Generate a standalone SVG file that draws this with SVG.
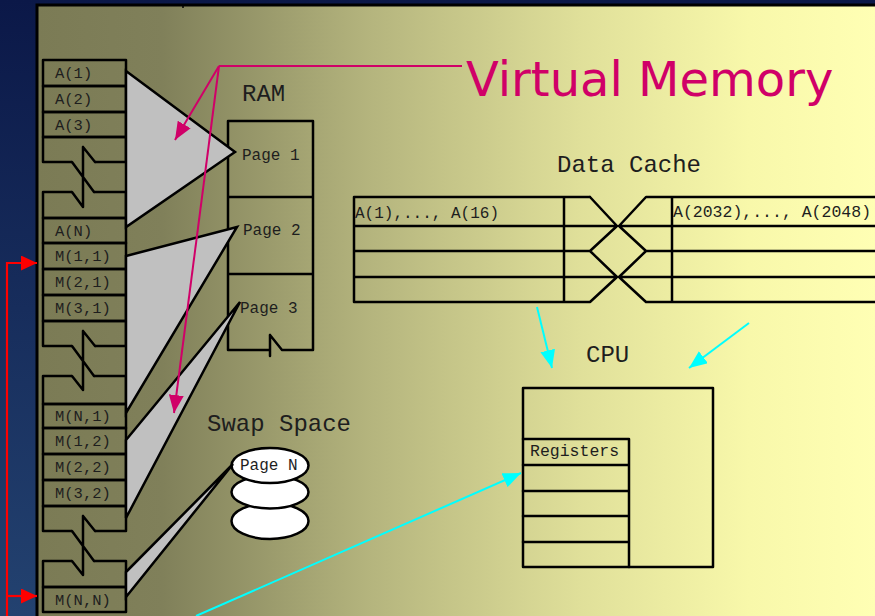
<svg xmlns="http://www.w3.org/2000/svg" width="875" height="616" viewBox="0 0 875 616">
<defs>
<linearGradient id="bg" x1="0" y1="0" x2="0" y2="1">
<stop offset="0" stop-color="#0b1848"/><stop offset="1" stop-color="#234270"/>
</linearGradient>
<linearGradient id="panel" x1="37" y1="0" x2="875" y2="0" gradientUnits="userSpaceOnUse">
<stop offset="0" stop-color="#7b7b55"/><stop offset="0.15" stop-color="#80805a"/><stop offset="0.4" stop-color="#b5b57e"/><stop offset="0.65" stop-color="#e0e09a"/><stop offset="0.85" stop-color="#f8f8aa"/><stop offset="1" stop-color="#ffffb4"/>
</linearGradient>
<marker id="mc" markerUnits="userSpaceOnUse" markerWidth="18" markerHeight="15" refX="18" refY="7.5" orient="auto"><path d="M0,0 L18,7.5 L0,15 z" fill="#00ffff"/></marker>
<marker id="mm" markerUnits="userSpaceOnUse" markerWidth="18" markerHeight="15" refX="18" refY="7.5" orient="auto"><path d="M0,0 L18,7.5 L0,15 z" fill="#d00068"/></marker>
<marker id="mr" markerUnits="userSpaceOnUse" markerWidth="16" markerHeight="15" refX="16" refY="7.5" orient="auto"><path d="M0,0 L16,7.5 L0,15 z" fill="#ff0000"/></marker>
</defs>
<style>
.ln{fill:none;stroke:#000;stroke-width:2.5;stroke-linejoin:round;stroke-linecap:round}
.cell{fill:none;stroke:#000;stroke-width:2.5;stroke-linejoin:round}
.tri{fill:#c0c0c0;stroke:#000;stroke-width:2.5;stroke-linejoin:miter}
.t{font-family:"Liberation Mono","DejaVu Sans Mono",monospace;fill:#1e1e1e}
.s{font-size:15.5px}
.m{font-size:16px}
.big{font-size:24px}
.cy{stroke:#00ffff;stroke-width:2;fill:none}
.mg{stroke:#d00068;stroke-width:2;fill:none}
.rd{stroke:#ff0000;stroke-width:2.2;fill:none}
.ell{fill:#fff;stroke:#000;stroke-width:2.5}
</style>
<rect width="875" height="616" fill="url(#bg)"/>
<rect x="37" y="5" width="860" height="630" fill="url(#panel)" stroke="#000" stroke-width="3"/>
<line x1="183" y1="5" x2="183" y2="8" stroke="#000" stroke-width="1.5"/>

<g id="memory-column">
<rect class="cell" x="43" y="60" width="83" height="26"/>
<rect class="cell" x="43" y="86" width="83" height="26"/>
<rect class="cell" x="43" y="112" width="83" height="25"/>
<path class="cell" d="M72,162 H43 V137 H126 V162 H95"/>
<path class="cell" d="M72,192 H43 V218 H126 V192 H94"/>
<path class="ln" d="M72,162 L94,192 M83,147 L95,162 M83,147 V207 M72,192 L83,207"/>
<rect class="cell" x="43" y="218" width="83" height="25"/>
<rect class="cell" x="43" y="243" width="83" height="26"/>
<rect class="cell" x="43" y="269" width="83" height="26"/>
<rect class="cell" x="43" y="295" width="83" height="26"/>
<path class="cell" d="M72,346 H43 V321 H126 V346 H95"/>
<path class="cell" d="M72,376 H43 V404 H126 V376 H94"/>
<path class="ln" d="M72,346 L94,376 M83,331 L95,346 M83,331 V390 M72,376 L83,390"/>
<rect class="cell" x="43" y="404" width="83" height="24"/>
<rect class="cell" x="43" y="428" width="83" height="26"/>
<rect class="cell" x="43" y="454" width="83" height="26"/>
<rect class="cell" x="43" y="480" width="83" height="26"/>
<path class="cell" d="M72,531 H43 V506 H126 V531 H95"/>
<path class="cell" d="M72,561 H43 V587 H126 V561 H94"/>
<path class="ln" d="M72,531 L94,561 M83,516 L95,531 M83,516 V575 M72,561 L83,575"/>
<rect class="cell" x="43" y="587" width="83" height="25"/>
<g class="t s">
<text x="55" y="78">A(1)</text>
<text x="55" y="104">A(2)</text>
<text x="55" y="130">A(3)</text>
<text x="55" y="236">A(N)</text>
<text x="55" y="261">M(1,1)</text>
<text x="55" y="287">M(2,1)</text>
<text x="55" y="313">M(3,1)</text>
<text x="55" y="421">M(N,1)</text>
<text x="55" y="446">M(1,2)</text>
<text x="55" y="472">M(2,2)</text>
<text x="55" y="498">M(3,2)</text>
<text x="55" y="605">M(N,N)</text>
</g>
</g>

<g id="ram">
<text class="t big" x="242" y="101">RAM</text>
<path class="ln" d="M270,350 H228 V121 H313 V350 H282 M228,197 H313 M228,274 H313 M270,335 V356 M270,335 L282,350"/>
<g class="t m">
<text x="242" y="160">Page 1</text>
<text x="243" y="235">Page 2</text>
<text x="240" y="313">Page 3</text>
</g>
</g>

<g id="swap-space">
<text class="t big" x="207" y="431">Swap Space</text>
<ellipse class="ell" cx="270" cy="521" rx="38.5" ry="18"/>
<ellipse class="ell" cx="270" cy="492" rx="38.5" ry="16.5"/>
<ellipse class="ell" cx="270" cy="465.5" rx="38.5" ry="17.5"/>
<text class="t m" x="240" y="470">Page N</text>
</g>

<g id="data-cache">
<text class="t big" x="557" y="172">Data Cache</text>
<path class="ln" d="M590,197 H354 V302 H590 M354,226 H617 M354,251 H590 M354,277 H617 M564,197 V302 M590,197 L617,226 L590,251 L617,277 L590,302"/>
<path class="ln" d="M880,197 H646 L619,226 L646,251 L619,277 L646,302 H880 M619,226 H880 M646,251 H880 M619,277 H880 M672,197 V302"/>
<text class="t m" x="355" y="218">A(1),..., A(16)</text>
<text class="t" style="font-size:16.5px" x="673" y="217">A(2032),..., A(2048)</text>
</g>

<g id="cpu">
<text class="t big" x="586" y="362">CPU</text>
<rect class="cell" x="523" y="388" width="190" height="179"/>
<path class="ln" d="M523,439 H629 V567 M523,465 H629 M523,491 H629 M523,516 H629 M523,542 H629"/>
<text class="t" style="font-size:16.5px" x="530" y="456">Registers</text>
</g>

<g id="title">
<text x="466" y="96" font-family="'DejaVu Sans',sans-serif" font-size="48" fill="#d00068">Virtual Memory</text>
</g>

<g id="connectors">
<polygon class="tri" points="126,71 235,152 126,227"/>
<polygon class="tri" points="126,256 237,227 126,413"/>
<polygon class="tri" points="126,440 240,302 126,518"/>
<polygon class="tri" points="126,572 233,464 126,597"/>
<path class="mg" d="M462,66 H219"/>
<line class="mg" x1="219" y1="66" x2="175" y2="140" marker-end="url(#mm)"/>
<line class="mg" x1="219" y1="66" x2="174" y2="413" marker-end="url(#mm)"/>
<line class="cy" x1="537" y1="307" x2="552" y2="368" marker-end="url(#mc)"/>
<line class="cy" x1="749" y1="323" x2="689" y2="368" marker-end="url(#mc)"/>
<line class="cy" x1="196" y1="616" x2="521" y2="473" marker-end="url(#mc)"/>
<path class="rd" d="M7,620 V263 H37" marker-end="url(#mr)"/>
<path class="rd" d="M7,596 H37" marker-end="url(#mr)"/>
</g>
</svg>
